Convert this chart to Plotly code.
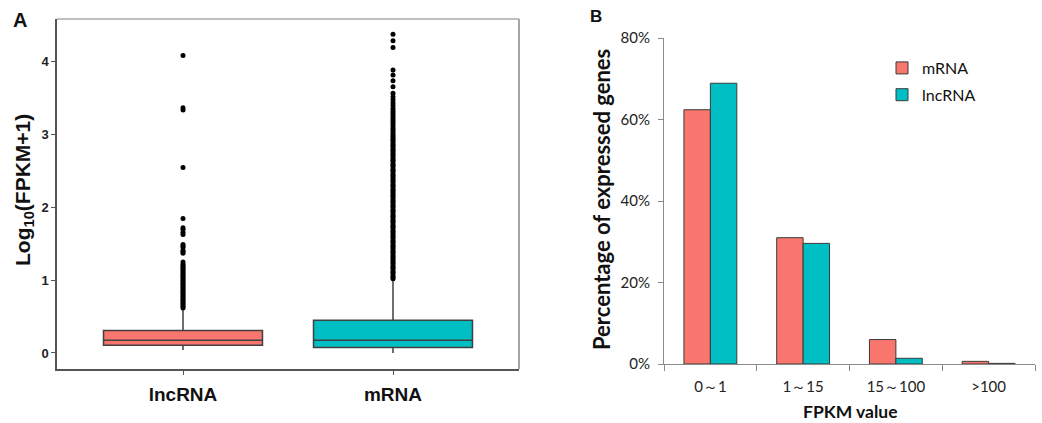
import plotly.graph_objects as go

# ---------------- Panel A data (box plot of log10(FPKM+1)) ----------------
box_cats = ["lncRNA", "mRNA"]
box_q1 = [0.105, 0.075]
box_median = [0.175, 0.175]
box_q3 = [0.31, 0.45]
box_lowerfence = [0.04, 0.0]
box_upperfence = [0.60, 1.00]
box_colors = ["#F8766D", "#00BFC4"]

lnc_outliers = [0.62, 0.64, 0.66, 0.68, 0.70, 0.72, 0.74, 0.76, 0.78, 0.80, 0.82,
                0.84, 0.86, 0.88, 0.90, 0.92, 0.94, 0.96, 0.98, 1.00, 1.02, 1.04,
                1.06, 1.08, 1.10, 1.12, 1.14, 1.16, 1.18, 1.20, 1.22, 1.25,
                1.37, 1.39, 1.41, 1.45, 1.47, 1.49, 1.63, 1.66, 1.70, 1.72,
                1.85, 2.55, 3.34, 3.37, 4.09]
mrna_outliers = [1.02, 1.04, 1.06, 1.09, 1.11, 1.13, 1.16, 1.18, 1.20, 1.23, 1.25,
                 1.27, 1.30, 1.32, 1.34, 1.37, 1.39, 1.41, 1.44, 1.46, 1.48, 1.51,
                 1.53, 1.55, 1.58, 1.60, 1.62, 1.65, 1.67, 1.69, 1.72, 1.74, 1.76,
                 1.79, 1.81, 1.83, 1.86, 1.88, 1.90, 1.93, 1.95, 1.97, 2.00, 2.02,
                 2.04, 2.07, 2.09, 2.11, 2.14, 2.16, 2.18, 2.21, 2.23, 2.25, 2.28,
                 2.30, 2.32, 2.35, 2.37, 2.39, 2.42, 2.44, 2.46, 2.49, 2.51, 2.53,
                 2.56, 2.58, 2.60, 2.63, 2.65, 2.67, 2.70, 2.72, 2.74, 2.77, 2.79,
                 2.81, 2.84, 2.86, 2.88, 2.91, 2.93, 2.95, 2.98, 3.00, 3.03, 3.06,
                 3.09, 3.12, 3.15, 3.18, 3.21, 3.24, 3.27, 3.30, 3.33, 3.36, 3.40,
                 3.44, 3.48, 3.52, 3.57, 3.66, 3.74, 3.82, 3.89, 4.20, 4.29, 4.38]
a_yticks = [0, 1, 2, 3, 4]

# ---------------- Panel B data (grouped bars) ----------------
fpkm_bins = ["0～1", "1～15", "15～100", ">100"]
mrna_pct = [62.4, 31.0, 6.0, 0.65]
lnc_pct = [68.9, 29.6, 1.4, 0.15]
bar_colors = {"mRNA": "#F8766D", "lncRNA": "#00BFC4"}
b_yticks = [0, 20, 40, 60, 80]
b_yticklabels = ["0%", "20%", "40%", "60%", "80%"]

fig = go.Figure()

# Panel A boxes
for cat, q1, med, q3, lo, hi, col in zip(box_cats, box_q1, box_median, box_q3,
                                         box_lowerfence, box_upperfence, box_colors):
    fig.add_trace(go.Box(
        x=[cat], q1=[q1], median=[med], q3=[q3], lowerfence=[lo], upperfence=[hi],
        fillcolor=col, line=dict(color="#404040", width=1.5), width=0.757,
        whiskerwidth=0, boxpoints=False, showlegend=False,
        xaxis="x", yaxis="y"))

fig.add_trace(go.Scatter(x=[box_cats[0]] * len(lnc_outliers), y=lnc_outliers,
                         mode="markers", marker=dict(color="black", size=5),
                         showlegend=False, xaxis="x", yaxis="y"))
fig.add_trace(go.Scatter(x=[box_cats[1]] * len(mrna_outliers), y=mrna_outliers,
                         mode="markers", marker=dict(color="black", size=5),
                         showlegend=False, xaxis="x", yaxis="y"))

# Panel B bars
fig.add_trace(go.Bar(x=fpkm_bins, y=mrna_pct, name="mRNA", legendgroup="g_mrna",
                     marker=dict(color=bar_colors["mRNA"], line=dict(color="#3a3a3a", width=1)),
                     xaxis="x2", yaxis="y2"))
fig.add_trace(go.Bar(x=fpkm_bins, y=lnc_pct, name="lncRNA", legendgroup="g_lnc",
                     marker=dict(color=bar_colors["lncRNA"], line=dict(color="#3a3a3a", width=1)),
                     xaxis="x2", yaxis="y2"))

W, H = 1042, 423
axA_x = [57 / W, 519 / W]
axA_y = [(H - 369) / H, (H - 19) / H]
axB_x = [664 / W, 1035 / W]
axB_y = [(H - 364) / H, (H - 38) / H]


def px(xp):
    return xp / W


def py(yp):
    return (H - yp) / H


fig.update_layout(
    width=W, height=H,
    margin=dict(l=0, r=0, t=0, b=0, pad=0, autoexpand=False),
    paper_bgcolor="white", plot_bgcolor="white",
    barmode="group", bargap=0.43, bargroupgap=0,
    xaxis=dict(domain=axA_x, type="category", range=[-0.6, 1.6],
               showline=True, linecolor="#555555", linewidth=1.5,
               ticks="outside", ticklen=4, tickcolor="#555555",
               tickfont=dict(family="Liberation Sans", size=19, color="#111111", weight="bold"),
               ticklabelstandoff=3,
               showgrid=False, zeroline=False),
    yaxis=dict(domain=axA_y, range=[-0.22, 4.59], tickvals=a_yticks,
               showline=True, linecolor="#555555", linewidth=1.5,
               ticks="outside", ticklen=4, tickcolor="#555555",
               tickfont=dict(family="Liberation Sans", size=13, color="#222222", weight="bold"),
               showgrid=False, zeroline=False),
    xaxis2=dict(domain=axB_x, type="category", anchor="y2",
                showline=True, linecolor="#8a8a8a", linewidth=1,
                ticks="outside", ticklen=6, tickcolor="#8a8a8a", tickson="boundaries",
                tickfont=dict(family="Lato", size=15, color="#222222"),
                ticklabelstandoff=9,
                showgrid=False, zeroline=False),
    yaxis2=dict(domain=axB_y, anchor="x2", range=[0, 80], tickvals=b_yticks,
                ticktext=b_yticklabels,
                showline=True, linecolor="#8a8a8a", linewidth=1,
                ticks="outside", ticklen=5, tickcolor="#8a8a8a",
                tickfont=dict(family="Lato", size=15, color="#222222"),
                ticklabelstandoff=5,
                showgrid=False, zeroline=False),
    legend=dict(x=px(882), y=py(51), xanchor="left", yanchor="top",
                font=dict(family="Lato", size=16, color="#111111"),
                traceorder="grouped", tracegroupgap=3,
                bgcolor="rgba(0,0,0,0)"),
    shapes=[
        dict(type="line", xref="x domain", yref="y domain", x0=0, x1=1, y0=1, y1=1,
             line=dict(color="#aaaaaa", width=1.5)),
        dict(type="line", xref="x domain", yref="y domain", x0=1, x1=1, y0=0, y1=1,
             line=dict(color="#888888", width=1.5)),
    ],
    annotations=[
        dict(text="<b>A</b>", x=px(20), y=py(20), xanchor="center", yanchor="middle",
             xref="paper", yref="paper", showarrow=False,
             font=dict(family="Liberation Sans", size=20, color="#111111")),
        dict(text="<b>B</b>", x=px(596), y=py(16), xanchor="center", yanchor="middle",
             xref="paper", yref="paper", showarrow=False,
             font=dict(family="Liberation Sans", size=17, color="#111111")),
        dict(text="<b>Log<sub>10</sub>(FPKM+1)</b>", x=px(24), y=py(190),
             xanchor="center", yanchor="middle",
             xref="paper", yref="paper", textangle=-90, showarrow=False,
             font=dict(family="Liberation Sans", size=21, color="#111111")),
        dict(text="<b>Percentage of expressed genes</b>", x=px(601), y=py(200),
             xanchor="center", yanchor="middle",
             xref="paper", yref="paper", textangle=-90, showarrow=False,
             font=dict(family="Lato", size=22, color="#111111")),
        dict(text="<b>FPKM value</b>", x=px(850), y=py(411),
             xanchor="center", yanchor="middle",
             xref="paper", yref="paper", showarrow=False,
             font=dict(family="Lato", size=17.5, color="#111111")),
    ],
)

fig.write_html("out.html",
               config={"displayModeBar": False},
               post_script="document.body.style.margin='0';document.body.style.padding='0';")
